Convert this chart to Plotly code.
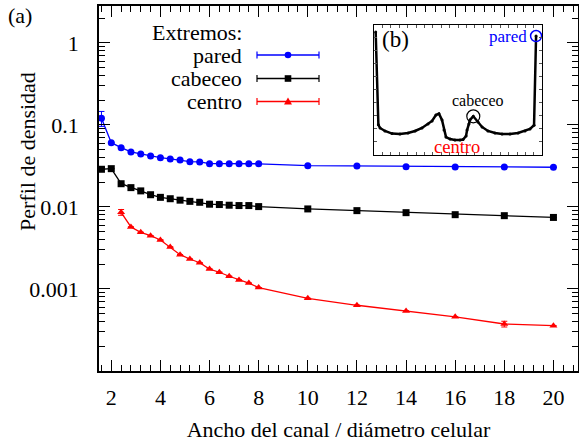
import plotly.graph_objects as go

# ---------------- data (main panel) ----------------
widths = [1.6, 2.0, 2.4, 2.8, 3.2, 3.6, 4.0, 4.4, 4.8, 5.2, 5.6, 6.0, 6.4, 6.8,
          7.2, 7.6, 8.0, 10, 12, 14, 16, 18, 20]
pared = [0.121, 0.0608, 0.0528, 0.0469, 0.0443, 0.0419, 0.0399, 0.0385, 0.0374,
         0.0356, 0.0354, 0.0337, 0.0337, 0.0337, 0.0336, 0.0336, 0.0336,
         0.0319, 0.0316, 0.0310, 0.0308, 0.0306, 0.0305]
pared_err = [0.025] + [0.0] * 22
cabeceo = [0.0288, 0.0293, 0.0192, 0.0172, 0.0157, 0.0141, 0.0131, 0.0126, 0.0121,
           0.0117, 0.0114, 0.0108, 0.0107, 0.0105, 0.0104, 0.0104, 0.0101,
           0.00946, 0.00902, 0.00852, 0.00805, 0.00783, 0.00745]
cabeceo_err = [0.0] * 23
centro_w = [2.4, 2.8, 3.2, 3.6, 4.0, 4.4, 4.8, 5.2, 5.6, 6.0, 6.4, 6.8, 7.2, 7.6,
            8.0, 10, 12, 14, 16, 18, 20]
centro = [0.00861, 0.00570, 0.00491, 0.00446, 0.00396, 0.00325, 0.00262, 0.00232,
          0.00209, 0.00175, 0.00160, 0.00143, 0.00129, 0.00118, 0.00104,
          0.00077, 0.000633, 0.00054, 0.000457, 0.000374, 0.000357]
centro_err = [0.0007] + [0.0] * 18 + [0.00003, 0.0]

xticks = [2, 4, 6, 8, 10, 12, 14, 16, 18, 20]
yticks = [1, 0.1, 0.01, 0.001]
yticklabels = ["1", "0.1", "0.01", "0.001"]

# ---------------- data (inset b: profile across channel) ----------------
prof_x = [0.010, 0.026, 0.036, 0.065, 0.107, 0.154, 0.202, 0.244, 0.285, 0.321,
          0.345, 0.368, 0.386, 0.404, 0.416, 0.428, 0.452, 0.481, 0.511, 0.529,
          0.547, 0.553, 0.564, 0.570, 0.590, 0.618, 0.642, 0.677, 0.719, 0.761,
          0.808, 0.856, 0.897, 0.927, 0.951, 0.963]
prof_y = [0.946, 0.231, 0.206, 0.183, 0.163, 0.160, 0.167, 0.183, 0.206, 0.237,
          0.260, 0.306, 0.316, 0.268, 0.190, 0.136, 0.121, 0.113, 0.113, 0.117,
          0.144, 0.190, 0.237, 0.268, 0.296, 0.252, 0.214, 0.183, 0.167, 0.160,
          0.160, 0.167, 0.183, 0.198, 0.227, 0.915]

FONT = "Liberation Serif"
BLUE = "#0000ff"
RED = "#ff0000"
W, H = 579, 446
L, R, T, B = 99, 1, 6, 75
PW, PH = W - L - R, H - T - B


def px(x):
    return (x - L) / PW


def py(y):
    return (H - B - y) / PH


def fnt(size, color="black"):
    return dict(family=FONT, size=size, color=color)


fig = go.Figure()

series = [
    (widths, pared, pared_err, BLUE, "circle"),
    (widths, cabeceo, cabeceo_err, "black", "square"),
    (centro_w, centro, centro_err, RED, "triangle-up"),
]
for xs, ys, es, col, sym in series:
    fig.add_trace(go.Scatter(
        x=xs, y=ys, mode="lines+markers",
        line=dict(color=col, width=1.3),
        marker=dict(color=col, symbol=sym, size=7),
        error_y=dict(type="data", array=es, visible=True, color=col,
                     thickness=1, width=3),
        showlegend=False,
    ))

# inset profile
fig.add_trace(go.Scatter(
    x=prof_x, y=prof_y, xaxis="x2", yaxis="y2", mode="lines+markers",
    line=dict(color="black", width=2.5), marker=dict(color="black", size=3),
    showlegend=False,
))
fig.add_trace(go.Scatter(
    x=[prof_x[-1]], y=[prof_y[-1]], xaxis="x2", yaxis="y2", mode="markers",
    marker=dict(symbol="circle-open", size=11, color=BLUE, line=dict(width=1.5)),
    showlegend=False,
))
fig.add_trace(go.Scatter(
    x=[prof_x[24]], y=[prof_y[24]], xaxis="x2", yaxis="y2", mode="markers",
    marker=dict(symbol="circle-open", size=13, color="black", line=dict(width=1.2)),
    showlegend=False,
))

minor_y = [m * 10 ** e for e in range(-4, 1) for m in range(2, 10)]

fig.update_layout(
    template="none",
    width=W, height=H,
    margin=dict(l=L, r=R, t=T, b=B),
    paper_bgcolor="white", plot_bgcolor="white",
    xaxis=dict(showline=True, linecolor="black", linewidth=1.5, mirror="ticks",
               ticks="inside", tickcolor="black", showgrid=False, zeroline=False,
               tickfont=fnt(22),
               range=[1.5, 21], tickmode="array", tickvals=xticks,
               ticklen=11, tickwidth=1, ticklabelstandoff=6,
               minor=dict(ticks="inside", ticklen=6, dtick=0.4, tick0=0,
                          tickcolor="black", tickwidth=1, showgrid=False),
               title=dict(text="Ancho del canal / diámetro celular",
                          font=fnt(22), standoff=12)),
    yaxis=dict(showline=True, linecolor="black", linewidth=1.5, mirror="ticks",
               ticks="inside", tickcolor="black", showgrid=False, zeroline=False,
               tickfont=fnt(22),
               type="log", range=[-4, 0.45], tickmode="array",
               tickvals=yticks, ticktext=yticklabels, ticklen=11, tickwidth=1,
               ticklabelstandoff=14,
               minor=dict(ticks="inside", ticklen=6, tickmode="array",
                          tickvals=minor_y, tickcolor="black", tickwidth=1,
                          showgrid=False)),
    xaxis2=dict(domain=[px(374), px(542.3)], anchor="y2", range=[0, 1],
                showline=True, linecolor="black", linewidth=1.2, mirror="ticks",
                ticks="inside", ticklen=3, dtick=0.05, tickcolor="#555",
                showticklabels=False, showgrid=False, zeroline=False),
    yaxis2=dict(domain=[py(154.7), py(25)], anchor="x2", range=[0, 1],
                showline=True, linecolor="black", linewidth=1.2, mirror="ticks",
                ticks="inside", ticklen=3, dtick=0.1, tickcolor="#555",
                showticklabels=False, showgrid=False, zeroline=False),
)

ann = []
ann.append(dict(text="Perfil de densidad", x=px(27), y=py(152), xref="paper", yref="paper",
                textangle=-90, showarrow=False, font=fnt(22),
                xanchor="center", yanchor="middle"))
ann.append(dict(text="(a)", x=px(6), y=py(15), xref="paper", yref="paper",
                showarrow=False, font=fnt(22), xanchor="left", yanchor="middle"))
ann.append(dict(text="(b)", x=px(380), y=py(40), xref="paper", yref="paper",
                showarrow=False, font=fnt(23), xanchor="left", yanchor="middle"))
ann.append(dict(text="pared", x=px(529), y=py(37), xref="paper", yref="paper",
                showarrow=False, font=fnt(17, BLUE), xanchor="right", yanchor="middle"))
ann.append(dict(text="cabeceo", x=px(478), y=py(100), xref="paper", yref="paper",
                showarrow=False, font=fnt(16), xanchor="center", yanchor="middle"))
ann.append(dict(text="centro", x=px(457), y=py(147), xref="paper", yref="paper",
                showarrow=False, font=fnt(18.5, RED), xanchor="center", yanchor="middle"))

ann.append(dict(text="Extremos:", x=px(244), y=py(32), xref="paper", yref="paper",
                showarrow=False, font=fnt(22), xanchor="right", yanchor="middle"))
shapes = []
leg = [("pared", BLUE, "circle", 55), ("cabeceo", "black", "square", 78.5),
       ("centro", RED, "triangle", 101.5)]
x0, x1, xm = 257, 319, 288
for name, col, sym, yy in leg:
    ann.append(dict(text=name, x=px(244), y=py(yy), xref="paper", yref="paper",
                    showarrow=False, font=fnt(22), xanchor="right", yanchor="middle"))
    shapes.append(dict(type="line", xref="paper", yref="paper", x0=px(x0), x1=px(x1),
                       y0=py(yy), y1=py(yy), line=dict(color=col, width=1.3)))
    for xc in (x0, x1):
        shapes.append(dict(type="line", xref="paper", yref="paper", x0=px(xc), x1=px(xc),
                           y0=py(yy - 3.5), y1=py(yy + 3.5), line=dict(color=col, width=1.2)))
    r = 3.3
    if sym == "circle":
        shapes.append(dict(type="circle", xref="paper", yref="paper", x0=px(xm - r),
                           x1=px(xm + r), y0=py(yy + r), y1=py(yy - r),
                           fillcolor=col, line=dict(color=col, width=0)))
    elif sym == "square":
        shapes.append(dict(type="rect", xref="paper", yref="paper", x0=px(xm - r),
                           x1=px(xm + r), y0=py(yy + r), y1=py(yy - r),
                           fillcolor=col, line=dict(color=col, width=0)))
    else:
        path = "M {} {} L {} {} L {} {} Z".format(px(xm - 4), py(yy + 3), px(xm + 4),
                                                   py(yy + 3), px(xm), py(yy - 4))
        shapes.append(dict(type="path", xref="paper", yref="paper", path=path,
                           fillcolor=col, line=dict(color=col, width=0)))

fig.update_layout(annotations=ann, shapes=shapes)
fig.write_html("out.html")
